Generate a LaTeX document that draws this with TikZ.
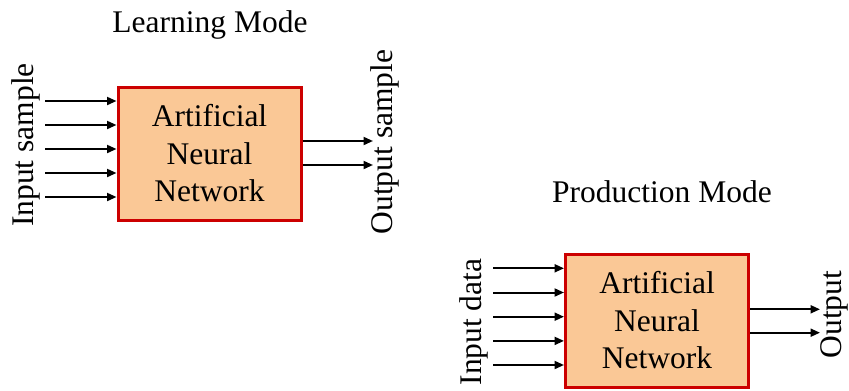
\documentclass[tikz,border=0pt]{standalone}
\usepackage{fontspec}
\setmainfont{Liberation Serif}
\usetikzlibrary{arrows.meta,calc}
\definecolor{annfill}{HTML}{FAC896}
\definecolor{annedge}{HTML}{CC0000}
\tikzset{
  txt/.style={font=\fontsize{31.5}{37.5}\selectfont, inner sep=0pt},
  annbox/.style={draw=annedge, fill=annfill, line width=3pt,
    minimum width=183pt, minimum height=133pt, align=center,
    font=\fontsize{31.5}{37.5}\selectfont, inner sep=0pt},
  sig/.style={line width=2pt, -{Triangle[length=9.5pt,width=8pt]}},
  vlabel/.style={txt, rotate=90, anchor=base}
}
\begin{document}
\begin{tikzpicture}[x=1pt,y=-1pt]
\useasboundingbox (0,0) rectangle (849,391);

% ---- learning mode ----
\node[txt, anchor=base] (t1) at (210,32) {Learning Mode};
\node[annbox] (A) at (209.5,153.5) {Artificial\\Neural\\Network};
\foreach \i/\y in {1/101,2/125,3/149,4/173,5/197}{
  \coordinate (ai\i) at (45,\y);
  \draw[sig] (ai\i) -- (ai\i -| A.west);
}
\foreach \i/\y in {1/141,2/165}{
  \coordinate (ao\i) at (373,\y);
  \draw[sig] (ao\i -| A.east) -- (ao\i);
}
\node[vlabel] (inA) at (33,145) {Input sample};
\node[vlabel] (outA) at (392,142) {Output sample};

% ---- production mode ----
\node[txt, anchor=base] (t2) at (662,202) {Production Mode};
\node[annbox] (B) at (657,320.5) {Artificial\\Neural\\Network};
\foreach \i/\y in {1/268.3,2/292.5,3/316.7,4/340.9,5/365}{
  \coordinate (bi\i) at (493,\y);
  \draw[sig] (bi\i) -- (bi\i -| B.west);
}
\foreach \i/\y in {1/309.3,2/332.7}{
  \coordinate (bo\i) at (820,\y);
  \draw[sig] (bo\i -| B.east) -- (bo\i);
}
\node[vlabel] (inB) at (481.5,322) {Input data};
\node[vlabel] (outB) at (841.5,314.5) {Output};
\end{tikzpicture}
\end{document}
